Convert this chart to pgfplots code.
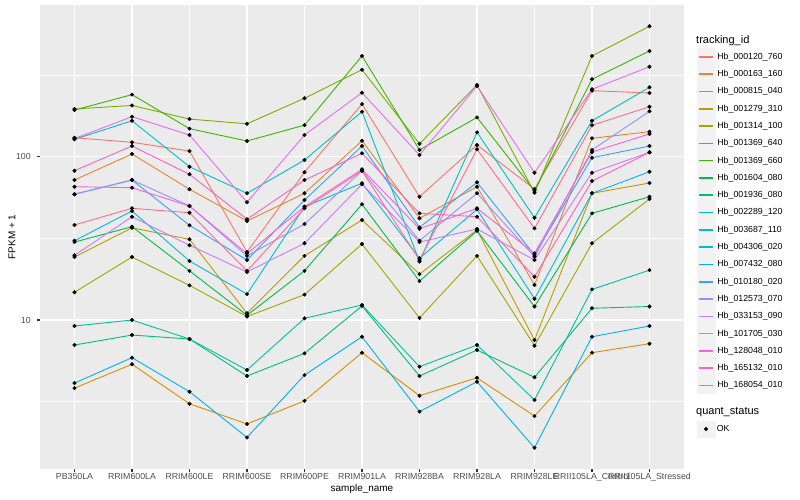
\documentclass[border=0pt]{standalone}
\usepackage{fontspec}
\setmainfont{Liberation Sans}
\usepackage{pgfplots}
\usepackage{pgfplotstable}
\pgfplotsset{compat=1.18}

% ggplot hue palette, 20 levels
\definecolor{c1}{HTML}{F8766D}
\definecolor{c2}{HTML}{EA8331}
\definecolor{c3}{HTML}{D89000}
\definecolor{c4}{HTML}{C09B00}
\definecolor{c5}{HTML}{A3A500}
\definecolor{c6}{HTML}{7CAE00}
\definecolor{c7}{HTML}{39B600}
\definecolor{c8}{HTML}{00BB4E}
\definecolor{c9}{HTML}{00BF7D}
\definecolor{c10}{HTML}{00C1A3}
\definecolor{c11}{HTML}{00BFC4}
\definecolor{c12}{HTML}{00BAE0}
\definecolor{c13}{HTML}{00B0F6}
\definecolor{c14}{HTML}{35A2FF}
\definecolor{c15}{HTML}{9590FF}
\definecolor{c16}{HTML}{C77CFF}
\definecolor{c17}{HTML}{E76BF3}
\definecolor{c18}{HTML}{FA62DB}
\definecolor{c19}{HTML}{FF62BC}
\definecolor{c20}{HTML}{FF6C91}
\definecolor{panel}{HTML}{EBEBEB}
\definecolor{keybg}{HTML}{F2F2F2}
\definecolor{g30}{HTML}{4D4D4D}
\definecolor{g20}{HTML}{333333}

% FPKM + 1, one row per sample, one column per tracking id
\pgfplotstableread{
x  s1    s2    s3   s4   s5   s6  s7    s8   s9   s10   s11   s12  s13  s14   s15   s16   s17   s18   s19   s20
0  130.7 72.0  3.83 24.3 14.8 196 193   30.0 7.03 9.19  127.8 30.6 4.11 58.9  58.9  24.9  129.2 65.5  82.1  38.2
1  122.5 103.9 5.36 36.7 24.3 206 240   37.3 8.09 10.0  166   46.5 5.88 72.0  72.0  42.9  175.8 64.6  116.3 48.3
2  108.4 63.2  3.07 31.2 16.3 170 148.5 20.0 7.65 7.65  86.8  23.0 3.64 38.0  49.9  28.7  135.8 49.9  78.0  45.4
3  26.1  40.4  2.31 11.0 10.5 159 124.8 10.7 4.54 4.94  59.7  14.4 1.91 23.3  24.7  19.7  52.6  25.5  41.4  20.0
4  80.3  59.7  3.20 24.7 14.3 228 156   20.0 6.25 10.24 95.5  49.4 4.60 54.3  38.7  29.5  135.8 49.4  72.0  48.3
5  210   125.3 6.31 41.0 29.2 341 414   51.1 12.2 12.36 188.7 68.8 7.90 116.3 82.1  67.8  246.6 83.7  104.9 82.1
6  56.9  42.0  3.44 19.1 10.3 120 110   17.3 4.54 5.18  22.8  23.9 2.75 36.9  30.6  30.0  102.4 36.2  45.0  23.3
7  117.9 65.5  4.43 35.6 24.7 275 174   35.2 6.55 7.03  141   47.6 4.19 69.7  59.7  36.1  271   48.3  42.9  111.0
8  63.4  16.4  2.58 7.54 6.96 60.2 61.9 12.1 4.46 3.24  42.3  13.5 1.65 25.0  24.4  23.3  79.8  25.6  18.4  36.4
9  253.7 129.6 6.31 59.7 29.5 414 298   45.0 11.8 15.4  166   59.7 7.90 98.6  110   79.8  258.7 106.9 71.0  155.7
10 245.5 142.3 7.16 69.0 55.1 629 444   56.9 12.1 20.2  266   80.9 9.19 116.3 189.7 106.4 355.7 137.8 106.4 202.4
}\fpkm

\begin{document}
\begin{tikzpicture}
\useasboundingbox (0,0) rectangle (800bp,500bp);
\begin{axis}[
  at={(40bp,31bp)}, anchor=south west,
  scale only axis, width=644bp, height=464bp,
  ymode=log,
  xmin=-0.6, xmax=10.6, ymin=1.2238, ymax=849.2,
  axis lines*=left, axis line style={draw=none},
  axis background/.style={fill=panel},
  xtick={0,...,10},
  xticklabels={PB350LA,RRIM600LA,RRIM600LE,RRIM600SE,RRIM600PE,RRIM901LA,RRIM928BA,RRIM928LA,RRIM928LE,RRII105LA\_Control,RRII105LA\_Stressed},
  ytick={10,100}, yticklabels={10,100},
  minor ytick={3.1623,31.623,316.23},
  grid=both,
  major grid style={white, line width=1.07bp},
  minor grid style={white, line width=0.53bp},
  tick align=outside, major tick length=2.75bp, minor tick length=0pt,
  tick style={g20, line width=1.07bp},
  tick label style={font=\fontsize{8.8bp}{10bp}\selectfont, text=g30},
  xticklabel style={yshift=2bp},
  yticklabel style={xshift=-3bp},
  xlabel={sample\_name}, ylabel={FPKM + 1},
  label style={font=\fontsize{11bp}{13bp}\selectfont},
  every axis x label/.style={at={(axis description cs:0.5,-0.0431)}, anchor=center},
  every axis y label/.style={at={(axis description cs:-0.0435,0.5)}, rotate=90, anchor=center},
  legend entries={Hb\_000120\_760,Hb\_000163\_160,Hb\_000815\_040,Hb\_001279\_310,Hb\_001314\_100,Hb\_001369\_640,Hb\_001369\_660,Hb\_001604\_080,Hb\_001936\_080,Hb\_002289\_120,Hb\_003687\_110,Hb\_004306\_020,Hb\_007432\_080,Hb\_010180\_020,Hb\_012573\_070,Hb\_033153\_090,Hb\_101705\_030,Hb\_128048\_010,Hb\_165132\_010,Hb\_168054\_010},
  legend cell align=left,
  legend image code/.code={\fill[keybg] (0bp,-8.2bp) rectangle (17.28bp,8.2bp);
    \draw[#1, line width=1.6bp] (1.7bp,0bp) -- (15.6bp,0bp);},
  legend style={at={(1.0202,0.9073)}, anchor=north west, draw=none, fill=none,
    inner sep=0pt, row sep=0pt, font=\fontsize{8.8bp}{10bp}\selectfont},
]
\pgfplotsinvokeforeach{1,...,20}{
  \addplot[c#1, line width=0.9bp] table[x=x, y=s#1] {\fpkm};
}
\pgfplotsinvokeforeach{1,...,20}{
  \addplot[only marks, mark=*, mark size=1.8bp, black, forget plot] table[x=x, y=s#1] {\fpkm};
}
\end{axis}
\begin{axis}[
  at={(40bp,31bp)}, anchor=south west,
  scale only axis, width=644bp, height=464bp,
  hide axis, xmin=0, xmax=1, ymin=0, ymax=1,
  legend cell align=left,
  legend image code/.code={\fill[keybg] (0bp,-8.2bp) rectangle (17.28bp,8.2bp);
    \fill[black] (8.64bp,0bp) circle (1.8bp);},
  legend style={at={(1.0202,0.1047)}, anchor=north west, draw=none, fill=none,
    inner sep=0pt, row sep=0pt, font=\fontsize{8.8bp}{10bp}\selectfont},
]
\addlegendimage{black}
\addlegendentry{OK}
\end{axis}
\node[anchor=west, inner sep=0pt, font=\fontsize{11bp}{13bp}\selectfont] at (696bp,459.3bp) {tracking\_id};
\node[anchor=west, inner sep=0pt, font=\fontsize{11bp}{13bp}\selectfont] at (696bp,88.3bp) {quant\_status};
\end{tikzpicture}
\end{document}
